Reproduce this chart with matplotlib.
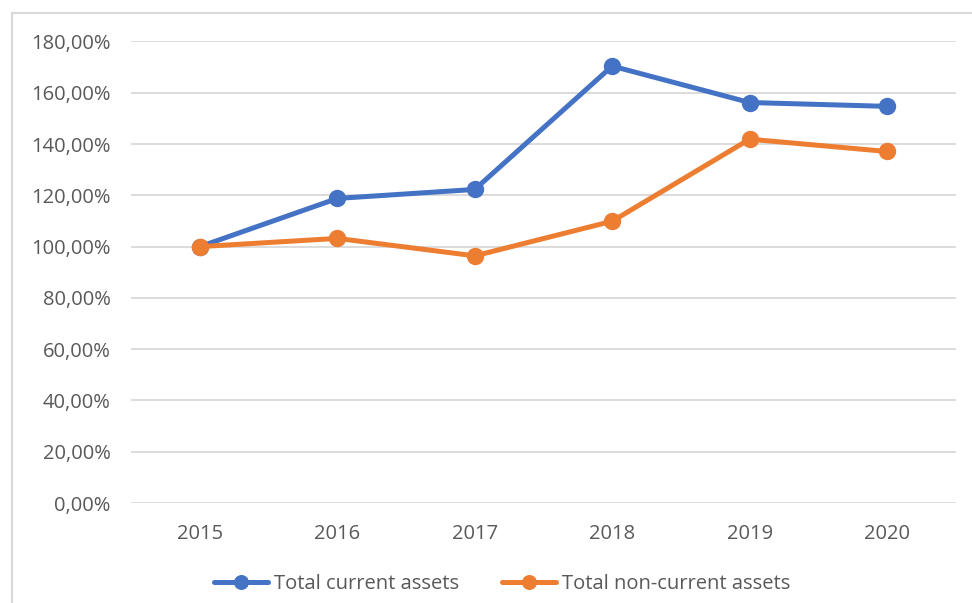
import matplotlib
matplotlib.use("Agg")
import matplotlib.pyplot as plt
from matplotlib.patches import Rectangle
from matplotlib.ticker import FuncFormatter

years = ["2015", "2016", "2017", "2018", "2019", "2020"]
current_assets = [100.0, 118.8, 122.3, 170.4, 156.2, 154.7]
non_current_assets = [100.0, 103.2, 96.4, 109.9, 141.9, 137.1]

blue = "#4472C4"
orange = "#ED7D31"
grey_text = "#595959"

plt.rcParams['font.family'] = ['Open Sans', 'DejaVu Sans']

fig = plt.figure(figsize=(9.72, 6.03), dpi=100)

# chart area border (picture is cropped on right and bottom)
fig.patches.append(Rectangle((12 / 972, -0.05), 1.1, 0.05 + (1 - 13 / 603),
                             transform=fig.transFigure, fill=False,
                             edgecolor="#D9D9D9", linewidth=1.5))

ax = fig.add_axes([0.1351, 0.1658, 0.8481, 0.7654])
x = range(len(years))
ax.plot(x, current_assets, '-o', color=blue, lw=3.6, ms=11.5,
        label="Total current assets", solid_capstyle='round')
ax.plot(x, non_current_assets, '-o', color=orange, lw=3.6, ms=11.5,
        label="Total non-current assets", solid_capstyle='round')

ax.set_xlim(-0.5, len(years) - 0.5)
ax.set_ylim(0, 180)
ax.set_yticks(range(0, 181, 20))
ax.yaxis.set_major_formatter(FuncFormatter(lambda v, p: f"{v:.2f}".replace(".", ",") + "%"))
ax.set_xticks(list(x))
ax.set_xticklabels(years)
ax.grid(axis='y', color="#D9D9D9", lw=1.3)
ax.set_axisbelow(True)
for s in ax.spines.values():
    s.set_visible(False)
ax.tick_params(length=0, labelsize=14.5, labelcolor=grey_text)
ax.tick_params(axis='y', pad=15)
ax.tick_params(axis='x', pad=15)

fig.legend(loc='center', bbox_to_anchor=(0.5165, 1 - 584 / 603), ncol=2,
           frameon=False, fontsize=14.5, labelcolor=grey_text,
           handlelength=2.7, handletextpad=0.3, columnspacing=2.1,
           markerscale=0.85)

fig.savefig("out.png", dpi=100)
